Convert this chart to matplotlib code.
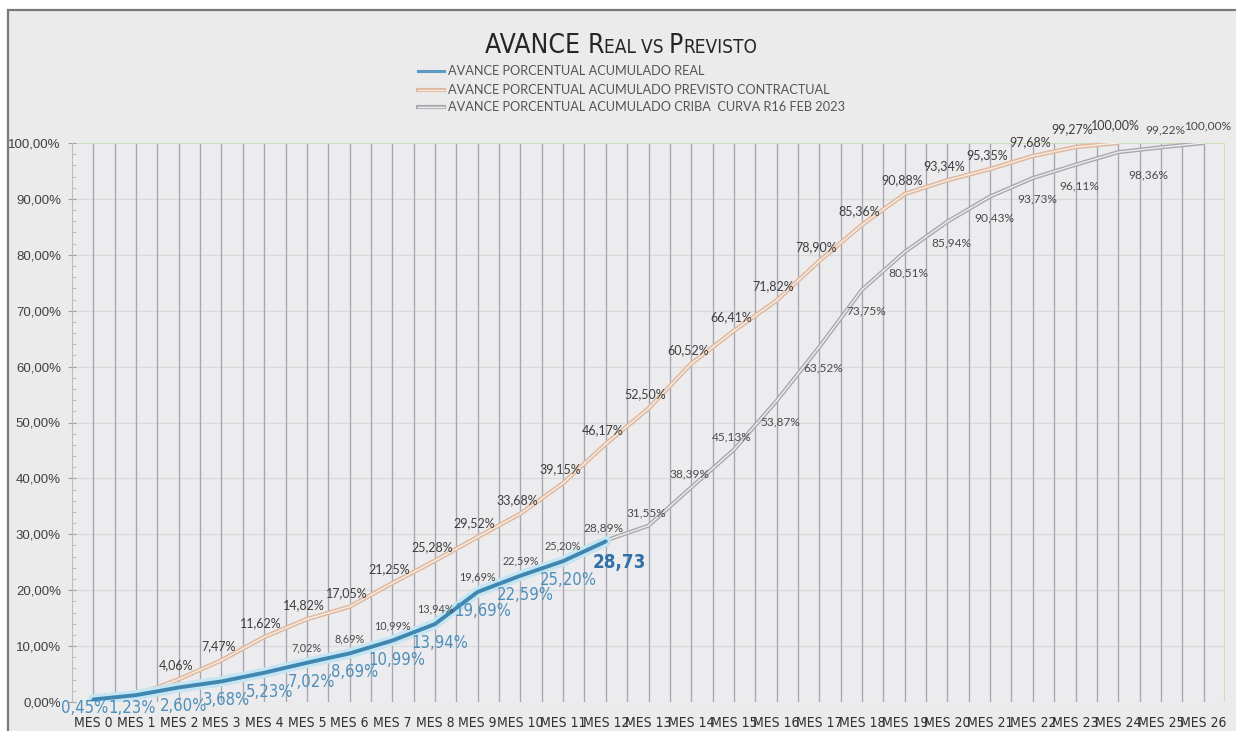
import matplotlib
matplotlib.use('Agg')
import matplotlib.pyplot as plt
from matplotlib import font_manager as fm
from matplotlib.patches import Rectangle
from matplotlib.lines import Line2D
import numpy as np

names = {f.name for f in fm.fontManager.ttflist}
LAB = 'Lato' if 'Lato' in names else 'DejaVu Sans'
SANS = 'Liberation Sans'


def is_narrow(f):
    return ('Narrow' in f.name or 'Condensed' in f.name or
            f.stretch in ('condensed', 'semi-condensed'))


def wnum(w):
    if isinstance(w, str):
        return {'normal': 400, 'regular': 400, 'bold': 700}.get(w, 400)
    return w


narrow_fp, narrow_bold = None, None
cands = [f for f in fm.fontManager.ttflist if is_narrow(f) and f.style == 'normal']
pref = [f for f in cands if f.name.startswith('Liberation')] or cands
for f in pref:
    if wnum(f.weight) == 400 and narrow_fp is None:
        narrow_fp = f.fname
        fam = f.name
for f in pref:
    if narrow_fp and f.name == fam and wnum(f.weight) >= 700 and narrow_bold is None:
        narrow_bold = f.fname


def NFP(size, bold=False):
    path = narrow_bold if (bold and narrow_bold) else narrow_fp
    if path:
        fp = fm.FontProperties(fname=path, size=size)
    else:
        fp = fm.FontProperties(family=SANS, size=size)
        if bold:
            fp.set_weight('bold')
    return fp


# ---------------- data ----------------
meses = [f"MES {i}" for i in range(27)]
real = [0.45, 1.23, 2.60, 3.68, 5.23, 7.02, 8.69, 10.99, 13.94, 19.69, 22.59, 25.20, 28.73]
previsto = [0.45, 1.23, 4.06, 7.47, 11.62, 14.82, 17.05, 21.25, 25.28, 29.52, 33.68,
            39.15, 46.17, 52.50, 60.52, 66.41, 71.82, 78.90, 85.36, 90.88, 93.34,
            95.35, 97.68, 99.27, 100.00]
criba_inicio = 5
criba = [7.02, 8.69, 10.99, 13.94, 19.69, 22.59, 25.20, 28.89, 31.55, 38.39, 45.13,
         53.87, 63.52, 73.75, 80.51, 85.94, 90.43, 93.73, 96.11, 98.36, 99.22, 100.00]
yticks = [0, 10, 20, 30, 40, 50, 60, 70, 80, 90, 100]

titulo = [("AVANCE ", 1.0), ("R", 1.0), ("EAL ", 0.72), ("VS ", 0.72), ("P", 1.0), ("REVISTO", 0.72)]
leyenda = ["AVANCE PORCENTUAL ACUMULADO REAL",
           "AVANCE PORCENTUAL ACUMULADO PREVISTO CONTRACTUAL",
           "AVANCE PORCENTUAL ACUMULADO CRIBA  CURVA R16 FEB 2023"]


def pct(v):
    return f"{v:.2f}%".replace('.', ',')


W, H = 1236, 731
fig = plt.figure(figsize=(W / 100, H / 100), dpi=100)
fig.patch.set_facecolor('white')

# chart area frame
fig.patches.append(Rectangle((8 / W, -0.01), 1 - 8 / W + 0.01, 1 - 10 / H + 0.01,
                             transform=fig.transFigure, facecolor='#ebebeb',
                             edgecolor='#7a7a7a', linewidth=1.6, zorder=-10))

ax = fig.add_axes([72 / W, 1 - 702 / H, (1225 - 72) / W, (702 - 143) / H])
ax.set_zorder(1)
ax.set_facecolor('#ececef')
ax.set_xlim(-0.5, 26.5)
ax.set_ylim(0, 100)

# gridlines
for k in range(1, 54):
    ax.axvline(-0.5 + 0.5 * k, color='#a5a5b0', lw=0.95, zorder=1)
for yv in yticks[1:-1]:
    ax.axhline(yv, color='#dadada', lw=0.9, zorder=0.9)
ax.axhline(100, color='#c9dfb6', lw=1.5, zorder=1.2)
ax.axvline(26.5, color='#c9dfb6', lw=1.5, zorder=1.2)

for s in ['top', 'right', 'bottom']:
    ax.spines[s].set_visible(False)
ax.spines['left'].set_color('#bdbdbd')
ax.axhline(0, color='#d0d0d0', lw=0.8, zorder=0.9)

ax.set_yticks(yticks)
ax.set_yticklabels([pct(v) for v in yticks], fontsize=9.5, family=SANS, color='#404040')
ax.set_yticks(np.arange(0, 101, 2), minor=True)
ax.tick_params(axis='y', which='major', direction='inout', length=6, color='#a0a0a0', pad=5)
ax.tick_params(axis='y', which='minor', direction='in', length=3, color='#b0b0b0')
ax.set_xticks(range(27))
ax.set_xticklabels(meses, color='#303030')
for t in ax.get_xticklabels():
    t.set_fontproperties(NFP(10.0 if narrow_fp else 8.8))
ax.tick_params(axis='x', length=0, pad=10)

x_real = np.arange(len(real))
x_prev = np.arange(len(previsto))
x_crib = np.arange(criba_inicio, criba_inicio + len(criba))

# series lines
ax.plot(x_prev, previsto, color='#e0b79b', lw=3.2, zorder=3, solid_capstyle='butt')
ax.plot(x_prev, previsto, color='#f4ebe4', lw=1.1, zorder=3.1)
ax.plot(x_crib, criba, color='#a8a8ae', lw=3.0, zorder=3.2, solid_capstyle='butt')
ax.plot(x_crib, criba, color='#eeeeee', lw=1.0, zorder=3.3)
ax.plot(x_real, real, color='#c4e5f1', lw=7.5, zorder=4, solid_capstyle='round')
ax.plot(x_real, real, color='#3f86b1', lw=2.8, zorder=4.1, solid_capstyle='round')

PX = 0.72  # pixel -> points

# labels previsto
for i, v in zip(x_prev, previsto):
    if i < 2:
        continue
    dy = 14 if i < 23 else 18
    ax.annotate(pct(v), (i, v), xytext=(-3 * PX, dy * PX), textcoords='offset points',
                ha='center', va='center', fontsize=9, family=LAB, color='#3d3d3d', zorder=6)

# labels criba
for i, v in zip(x_crib, criba):
    if i <= 11:
        off, fs = (0, 15), 7.8
    elif i <= 15:
        off, fs = (-2, 13), 8.6
    elif i <= 23:
        off, fs = (4, -21), 8.6
    elif i == 24:
        off, fs = (30, -23), 8.6
    else:
        off, fs = (4, 17), 8.6
    ax.annotate(pct(v), (i, v), xytext=(off[0] * PX, off[1] * PX), textcoords='offset points',
                ha='center', va='center', fontsize=fs, family=LAB, color='#4a4a4a', zorder=6)

# labels real
rfs = 12 if narrow_fp else 10.5
for i, v in zip(x_real, real):
    if i == len(real) - 1:
        ax.annotate(f"{v:.2f}".replace('.', ','), (i, v), xytext=(14 * PX, -21 * PX),
                    textcoords='offset points', ha='center', va='center',
                    fontproperties=NFP(rfs + 1.5, bold=True), color='#2e70a7', zorder=7)
        continue
    if i == 0:
        off = (-9, -9)
    elif i == 1:
        off = (-4, -13)
    else:
        off = (5, -19)
    ax.annotate(pct(v), (i, v), xytext=(off[0] * PX, off[1] * PX), textcoords='offset points',
                ha='center', va='center', fontproperties=NFP(rfs), color='#4d8fba', zorder=7)

# title (small caps emulation), scaled to target width
r = fig.canvas.get_renderer()
base = 24
pieces = []
for txt, sc in titulo:
    t = fig.text(0, 1 - 53 / H, txt, fontproperties=NFP(base * sc), color='#262626',
                 va='baseline', ha='left')
    pieces.append(t)
widths = [t.get_window_extent(r).width for t in pieces]
scale = 273 / sum(widths)
for t, (txt, sc) in zip(pieces, titulo):
    t.set_fontproperties(NFP(base * sc * scale))
widths = [t.get_window_extent(r).width for t in pieces]
x0 = 621 - sum(widths) / 2
for t, w in zip(pieces, widths):
    t.set_x(x0 / W)
    x0 += w

# legend
ly = [71, 90, 107]
styles = [[('#5b9bc2', 2.2)], [('#e0b79b', 3.0), ('#f4ebe4', 1.0)], [('#a8a8ae', 3.0), ('#eeeeee', 1.0)]]
for yy, txt, st in zip(ly, leyenda, styles):
    for c, lw in st:
        fig.add_artist(Line2D([418 / W, 444 / W], [1 - yy / H, 1 - yy / H], color=c, lw=lw,
                              transform=fig.transFigure))
    fig.text(448 / W, 1 - yy / H, txt, fontsize=9.2, family=LAB, color='#555555', va='center', ha='left')

fig.savefig('out.png', dpi=100, facecolor=fig.get_facecolor())
